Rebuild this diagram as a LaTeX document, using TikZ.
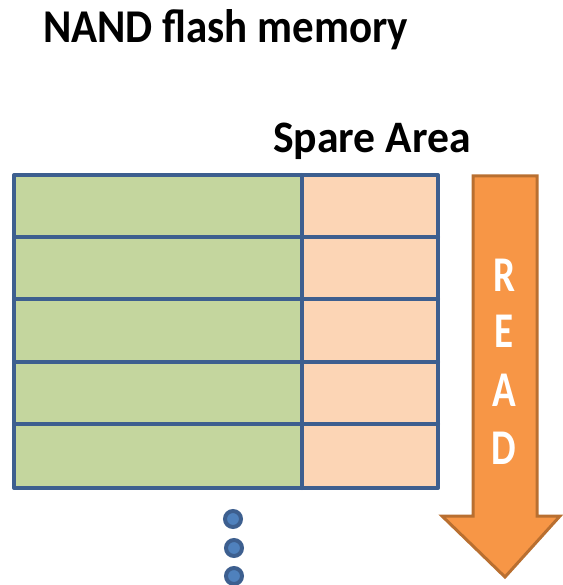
\documentclass[tikz,border=0pt]{standalone}
\usepackage{graphicx}
\usepackage{fontspec}
\setmainfont{Carlito}
\definecolor{gridblue}{HTML}{3D5F8F}
\definecolor{dotblue}{HTML}{4F81BD}
\definecolor{datagreen}{HTML}{C4D69E}
\definecolor{sparepeach}{HTML}{FCD5B5}
\definecolor{arrowfill}{HTML}{F79646}
\definecolor{arrowedge}{HTML}{B96F30}
\newcommand{\narrow}[2]{\scalebox{#1}[1]{#2}}
\tikzset{
  cellline/.style={draw=gridblue, line width=4pt, line join=round, line cap=round},
  letter/.style={text=white, font=\fontsize{50}{56}\selectfont\bfseries, inner sep=0pt},
  dotmark/.style={circle, fill=dotblue, draw=gridblue, line width=4pt, minimum size=16pt, inner sep=0pt},
}
\begin{document}
\begin{tikzpicture}[x=1pt, y=-1pt]
\useasboundingbox (0,0) rectangle (562,585);

% title and column label
\node[anchor=base west, inner sep=0pt, font=\fontsize{47}{54}\selectfont\bfseries] (title) at (43,43) {\narrow{0.915}{NAND flash memory}};
\node[anchor=base west, inner sep=0pt, font=\fontsize{45}{52}\selectfont\bfseries] (spare) at (273,153) {\narrow{0.97}{Spare Area}};

% page array: data part and spare part
\fill[datagreen] (14,175) rectangle (302,488);
\fill[sparepeach] (302,175) rectangle (438,488);
\foreach \y in {237,299,362,424}
  \draw[cellline] (14,\y) -- (438,\y);
\draw[cellline] (302,175) -- (302,488);
\draw[cellline] (14,175) rectangle (438,488);

% read direction arrow
\coordinate (a1) at (473,176);
\coordinate (a2) at (537,176);
\coordinate (a3) at (537,516);
\coordinate (a4) at (560,516);
\coordinate (tip) at (505,577);
\coordinate (a6) at (442,516);
\coordinate (a7) at (473,516);
\draw[fill=arrowfill, draw=arrowedge, line width=3pt, line join=miter]
  (a1) -- (a2) -- (a3) -- (a4) -- (tip) -- (a6) -- (a7) -- cycle;
\node[letter] (r) at (504,275) {\narrow{0.78}{R}};
\node[letter] (e) at (504,331) {\narrow{0.78}{E}};
\node[letter] (a) at (504,390) {\narrow{0.78}{A}};
\node[letter] (d) at (504,448) {\narrow{0.78}{D}};

% continuation dots
\node[dotmark] (dot1) at (233,519) {};
\node[dotmark] (dot2) at (234,548) {};
\node[dotmark] (dot3) at (234,576) {};
\end{tikzpicture}
\end{document}
